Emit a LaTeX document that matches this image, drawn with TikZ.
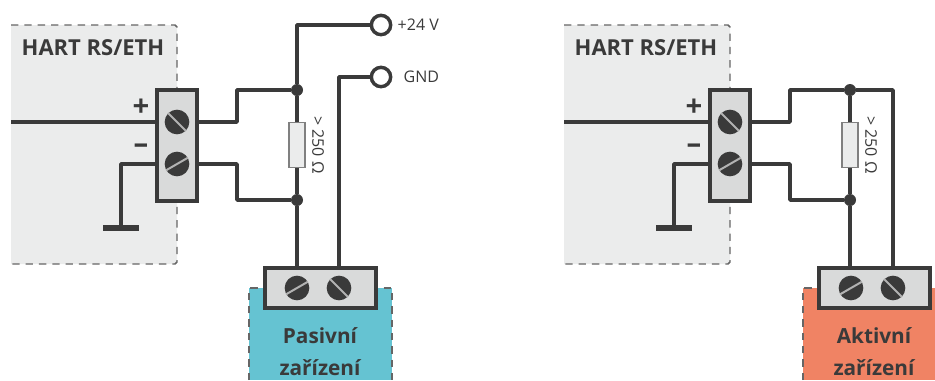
\documentclass[tikz,border=0pt]{standalone}
\usepackage{fontspec}
\setmainfont{Open Sans}
\definecolor{panelgray}{HTML}{EBECEC}
\definecolor{termgray}{HTML}{D9DADA}
\definecolor{inkdark}{HTML}{3A3A3A}
\definecolor{dashgray}{HTML}{666666}
\definecolor{passiveblue}{HTML}{65C3D2}
\definecolor{activered}{HTML}{F08364}
\tikzset{
  wire/.style={draw=inkdark,line width=2.6pt,line join=round},
  dashline/.style={draw=dashgray,line width=1.1pt,dash pattern=on 5.5pt off 4.5pt},
  termbox/.style={draw=inkdark,fill=termgray,line width=2.6pt,inner sep=0pt},
  junction/.style={circle,fill=inkdark,inner sep=0pt,minimum size=9pt},
  screwhead/.style={circle,fill=inkdark,inner sep=0pt,minimum size=18.5pt},
  terminal/.style={circle,draw=inkdark,fill=white,line width=2.6pt,inner sep=0pt,minimum size=14.5pt},
  resistor/.style={draw=gray,fill=panelgray,line width=1.1pt,inner sep=0pt,minimum width=12pt,minimum height=34pt},
  title/.style={font=\bfseries\fontsize{16.5}{18}\selectfont,text=inkdark},
  devtext/.style={font=\bfseries\fontsize{15.6}{24}\selectfont,text=inkdark,align=center},
  signs/.style={font=\bfseries\fontsize{22}{22}\selectfont,text=inkdark},
  small/.style={font=\fontsize{12}{14}\selectfont,text=inkdark}
}
% screw head with its slot
\newcommand{\screw}[3]{
  \node[screwhead] (#1) at (#2) {};
  \draw[draw=gray!60,line width=1.5pt] (#1.#3) -- (#1.#3+180);
}
\begin{document}
\begin{tikzpicture}[x=0.75pt,y=-0.75pt]
  \useasboundingbox (0,0) rectangle (935,380);

  % the two device panels at the bottom
  \fill[passiveblue] (249,288) rectangle (392,380);
  \draw[dashline] (249,380) -- (249,288) -- (392,288) -- (392,380);
  \fill[activered] (803,288) rectangle (935,380);
  \draw[dashline] (803,380) -- (803,288) -- (935,288);

  \foreach \u/\dx in {a/0,b/553}{
    \begin{scope}[xshift=\dx*0.75pt]
      \fill[panelgray] (11,25) -- (175,25) -- (177,27) -- (177,262) -- (175,264) -- (11,264) -- cycle;
      \draw[dashline] (11,25) -- (175,25) -- (177,27) -- (177,262) -- (175,264) -- (11,264);
      \node[title] (\u title) at (93,48) {HART RS/ETH};

      \node[termbox,minimum width=30pt,minimum height=83pt] (\u term) at (177,145.5) {};
      \screw{\u top}{177,122}{135}
      \screw{\u bot}{177,164}{30}
      \node[signs] (\u plus) at (141,108) {+};
      \node[signs] (\u minus) at (141,149) {--};

      \coordinate (\u in) at (11,122);
      \coordinate (\u gnd) at (121,228);
      \draw[wire] (\u in) -- (\u in -| \u term.west);
      \draw[wire] (\u bot -| \u term.west) -| (\u gnd);
      \draw[draw=inkdark,line width=4.8pt] (103,228) -- (139,228);

      \node[junction] (\u upper) at (297,90) {};
      \node[junction] (\u lower) at (297,200) {};
      \node[resistor] (\u res) at (297,145) {};
      \node[small,rotate=-90] (\u val) at (318,145) {> 250 Ω};
      \coordinate (\u bendA) at (237,122);
      \coordinate (\u bendB) at (237,164);
      \draw[wire] (\u top -| \u term.east) -- (\u bendA) |- (\u upper);
      \draw[wire] (\u bot -| \u term.east) -- (\u bendB) |- (\u lower);
      \draw[wire] (\u upper) -- (\u res);
      \draw[wire] (\u res) -- (\u lower);
    \end{scope}
  }

  % passive device
  \node[termbox,minimum width=83pt,minimum height=30pt] (pterm) at (320.5,288) {};
  \screw{pleft}{297,288}{30}
  \screw{pright}{339,288}{135}
  \node[devtext] (pname) at (320,352) {Pasivní\\zařízení};
  \node[terminal] (vcc) at (381,25) {};
  \node[terminal] (gnd) at (381,77) {};
  \node[small,anchor=west] (vcclabel) at (393,25) {+24 V};
  \node[small,anchor=west] (gndlabel) at (399,77) {GND};
  \draw[wire] (alower) -- (alower |- pterm.north);
  \draw[wire] (aupper) |- (vcc);
  \draw[wire] (gnd) -| (pright |- pterm.north);

  % active device
  \node[termbox,minimum width=83pt,minimum height=30pt] (rterm) at (874.5,288) {};
  \screw{rleft}{851,288}{30}
  \screw{rright}{893,288}{135}
  \node[devtext] (rname) at (874,352) {Aktivní\\zařízení};
  \draw[wire] (blower) -- (blower |- rterm.north);
  \draw[wire] (bupper) -| (rright |- rterm.north);
\end{tikzpicture}
\end{document}
